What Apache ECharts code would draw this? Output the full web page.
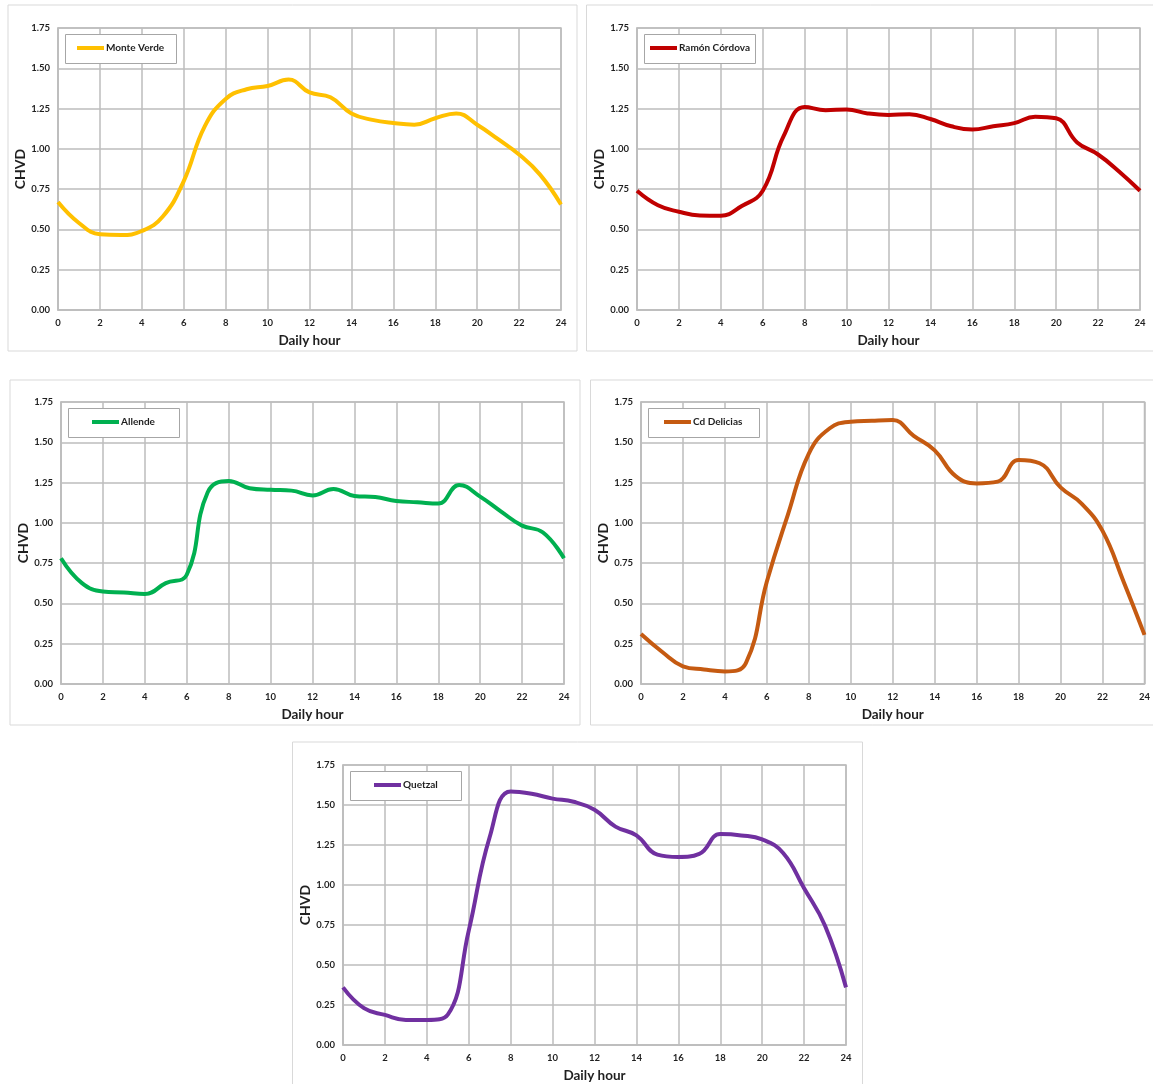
<!DOCTYPE html>
<html>
<head>
<meta charset="utf-8">
<script src="https://cdn.jsdelivr.net/npm/echarts@6/dist/echarts.min.js"></script>
<style>
  html, body { margin: 0; padding: 0; background: #ffffff; }
  #chart { width: 1153px; height: 1084px; }
</style>
</head>
<body>
<div id="chart"></div>
<script>
// Hour of day (x values shared by every station)
const hours = [0, 1, 2, 3, 4, 5, 6, 7, 8, 9, 10, 11, 12, 13, 14, 15, 16, 17, 18, 19, 20, 21, 22, 23, 24];

// Hourly CHVD profile per station
const monteVerde   = [0.67, 0.54, 0.47, 0.465, 0.49, 0.58, 0.80, 1.14, 1.31, 1.37, 1.39, 1.43, 1.35, 1.32, 1.22, 1.18, 1.16, 1.15, 1.19, 1.22, 1.15, 1.06, 0.965, 0.84, 0.655];
const ramonCordova = [0.74, 0.65, 0.61, 0.587, 0.585, 0.645, 0.74, 1.08, 1.26, 1.24, 1.245, 1.22, 1.21, 1.215, 1.185, 1.14, 1.12, 1.14, 1.16, 1.20, 1.19, 1.04, 0.965, 0.86, 0.74];
const allende      = [0.78, 0.626, 0.574, 0.568, 0.558, 0.626, 0.678, 1.19, 1.26, 1.215, 1.205, 1.20, 1.17, 1.21, 1.167, 1.16, 1.136, 1.128, 1.12, 1.235, 1.163, 1.07, 0.983, 0.94, 0.78];
const cdDelicias   = [0.31, 0.20, 0.11, 0.09, 0.078, 0.13, 0.636, 1.05, 1.43, 1.587, 1.628, 1.634, 1.638, 1.54, 1.45, 1.29, 1.245, 1.256, 1.39, 1.37, 1.22, 1.12, 0.95, 0.636, 0.305];
const quetzal      = [0.36, 0.23, 0.188, 0.157, 0.157, 0.19, 0.715, 1.30, 1.585, 1.57, 1.54, 1.52, 1.47, 1.365, 1.31, 1.19, 1.175, 1.195, 1.318, 1.31, 1.285, 1.20, 0.98, 0.745, 0.36];

// Station names and line colours
const stationNames  = ['Monte Verde', 'Ramón Córdova', 'Allende', 'Cd Delicias', 'Quetzal'];
const stationColors = ['#FFC000', '#C00000', '#00B050', '#C55A11', '#7030A0'];
const stationValues = [monteVerde, ramonCordova, allende, cdDelicias, quetzal];

// Axis ranges and labels
const xAxisTitle = 'Daily hour';
const yAxisTitle = 'CHVD';
const yMax = 1.75, yStep = 0.25;
const xMax = 24, xStep = 2;

// Panel layout: outer frame and plot area in page pixels
const panels = [
  { frame: [8, 5, 569, 346],       plot: [58, 28, 503, 282] },
  { frame: [586.5, 5, 580, 346],   plot: [637, 28, 503, 282] },
  { frame: [10, 380, 570, 345],    plot: [61, 402, 503, 282] },
  { frame: [590.5, 380, 580, 345], plot: [641, 402, 504, 282] },
  { frame: [292.5, 742, 570, 360], plot: [343, 765, 503, 281] }
];

const FONT = 'Lato, "Open Sans", "Liberation Sans", sans-serif';
const TEXT = '#1f1f1f';
const GRID = '#bdbdbd';

const measureCtx = document.createElement('canvas').getContext('2d');
function textWidth(str, size) {
  measureCtx.font = 'bold ' + size + 'px ' + FONT;
  return measureCtx.measureText(str).width;
}

const grids = [], xAxes = [], yAxes = [], series = [], legends = [], graphics = [];
const LEG_W = 111, LEG_H = 29, ICON_W = 27, LEG_FONT = 10;

panels.forEach((p, i) => {
  const [fx, fy, fw, fh] = p.frame;
  const [gx, gy, gw, gh] = p.plot;

  graphics.push({
    type: 'rect', z: -1, silent: true,
    shape: { x: fx, y: fy, width: fw, height: fh },
    style: { fill: '#ffffff', stroke: '#d9d9d9', lineWidth: 1 }
  });

  grids.push({
    left: gx, top: gy, width: gw, height: gh,
    show: true, borderColor: GRID, borderWidth: 1.5, backgroundColor: '#ffffff'
  });

  xAxes.push({
    gridIndex: i, type: 'value', min: 0, max: xMax, interval: xStep,
    name: xAxisTitle, nameLocation: 'middle', nameGap: 24,
    nameTextStyle: { fontFamily: FONT, fontWeight: 'bold', fontSize: 13.5, color: TEXT },
    axisLine: { show: true, lineStyle: { color: GRID, width: 1.5 } },
    axisTick: { show: false },
    axisLabel: { fontFamily: FONT, fontWeight: 'bold', fontSize: 9.5, color: TEXT, margin: 8 },
    splitLine: { show: true, lineStyle: { color: GRID, width: 1.5 } }
  });

  yAxes.push({
    gridIndex: i, type: 'value', min: 0, max: yMax, interval: yStep,
    name: yAxisTitle, nameLocation: 'middle', nameGap: 31,
    nameTextStyle: { fontFamily: FONT, fontWeight: 'bold', fontSize: 14, color: TEXT },
    axisLine: { show: true, lineStyle: { color: GRID, width: 1.5 } },
    axisTick: { show: false },
    axisLabel: {
      fontFamily: FONT, fontWeight: 'bold', fontSize: 9.5, color: TEXT, margin: 8,
      formatter: v => v.toFixed(2)
    },
    splitLine: { show: true, lineStyle: { color: GRID, width: 1.5 } }
  });

  series.push({
    name: stationNames[i], type: 'line', xAxisIndex: i, yAxisIndex: i,
    data: hours.map((h, k) => [h, stationValues[i][k]]),
    smooth: 0.45, symbol: 'none', z: 5,
    lineStyle: { color: stationColors[i], width: 4 },
    itemStyle: { color: stationColors[i] }
  });

  // Legend frame, with the single entry centred inside it
  const bx = gx + 7, by = gy + 6;
  graphics.push({
    type: 'rect', z: 10, silent: true,
    shape: { x: bx + 0.5, y: by + 0.5, width: LEG_W, height: LEG_H },
    style: { fill: '#ffffff', stroke: '#a6a6a6', lineWidth: 1 }
  });
  const contentW = ICON_W + 2 + textWidth(stationNames[i], LEG_FONT);
  legends.push({
    data: [stationNames[i]], z: 11,
    left: Math.round(bx + (LEG_W - contentW) / 2), top: by + 9,
    padding: 0, icon: 'rect', itemWidth: ICON_W, itemHeight: 4, itemGap: 0,
    selectedMode: false,
    textStyle: { fontFamily: FONT, fontWeight: 'bold', fontSize: LEG_FONT, color: TEXT, padding: [0, 0, 0, -3] }
  });
});

const chart = echarts.init(document.getElementById('chart'), null, { renderer: 'canvas' });
chart.setOption({
  backgroundColor: '#ffffff',
  animation: false,
  graphic: { elements: graphics },
  legend: legends,
  grid: grids,
  xAxis: xAxes,
  yAxis: yAxes,
  series: series
});
</script>
</body>
</html>
